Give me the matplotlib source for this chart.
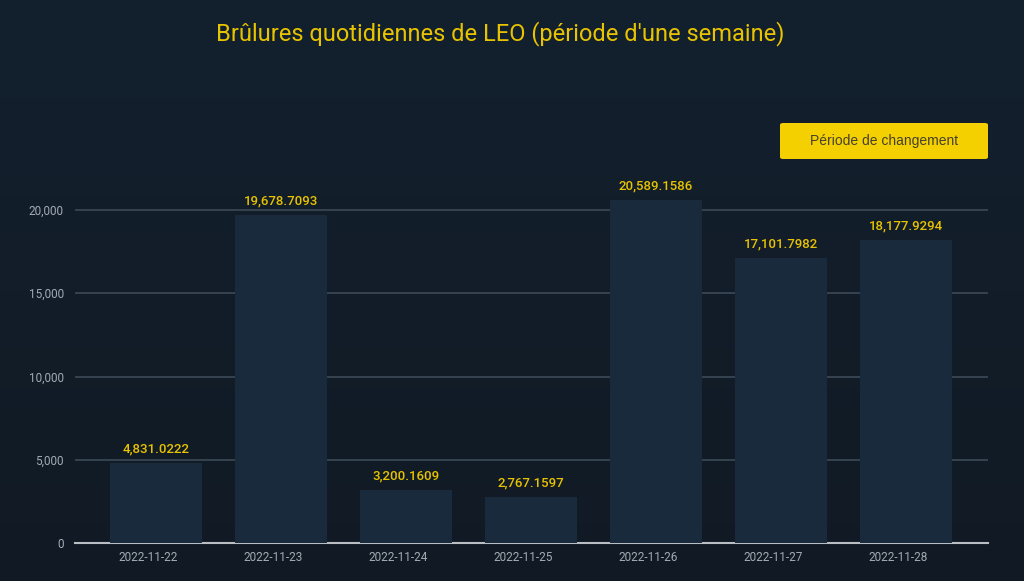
import numpy as np
import matplotlib.pyplot as plt
import matplotlib.transforms as mtransforms
from matplotlib.patches import FancyBboxPatch
from matplotlib.colors import LinearSegmentedColormap

# data
dates = ['2022-11-22', '2022-11-23', '2022-11-24', '2022-11-25',
         '2022-11-26', '2022-11-27', '2022-11-28']
burns = [4831.0222, 19678.7093, 3200.1609, 2767.1597,
         20589.1586, 17101.7982, 18177.9294]
yticks = [0, 5000, 10000, 15000, 20000]

title = "Brûlures quotidiennes de LEO (période d'une semaine)"
legend_label = "Période de changement"

plt.rcParams['font.family'] = ['Roboto', 'DejaVu Sans']

fig = plt.figure(figsize=(10.24, 5.81), dpi=100)

# background gradient
bg = fig.add_axes([0, 0, 1, 1], zorder=-10)
grad = np.linspace(0, 1, 256).reshape(-1, 1)
cmap = LinearSegmentedColormap.from_list('bg', ['#13202e', '#111a24'])
bg.imshow(grad, aspect='auto', cmap=cmap, extent=[0, 1, 0, 1])
bg.axis('off')

ax = fig.add_axes([75 / 1024, 1 - 543 / 581, 913 / 1024, 366.3 / 581])
ax.patch.set_alpha(0)

x = np.arange(len(dates))
ax.bar(x, burns, width=0.735, color='#182a3c', zorder=3)
for xi, v in zip(x, burns):
    ax.text(xi, v + 450, f'{v:,.4f}', ha='center', va='bottom',
            color='#e8c300', fontsize=9.5, fontweight='medium', zorder=4)

ax.set_xlim(-0.648, 6.656)
ax.set_ylim(0, 22000)
ax.set_yticks(yticks)
ax.set_yticklabels([f'{t:,}' for t in yticks])
ax.set_xticks(x)
ax.set_xticklabels(dates)
ax.tick_params(axis='both', colors='#a3abb3', labelsize=8.5, length=0)
ax.tick_params(axis='y', pad=8)
ax.tick_params(axis='x', pad=6)
shift = mtransforms.ScaledTranslation(-8 / 100, 0, fig.dpi_scale_trans)
for lbl in ax.get_xticklabels():
    lbl.set_transform(lbl.get_transform() + shift)
ax.grid(axis='y', color='#3b4a56', linewidth=1.2, zorder=1)
for s in ['top', 'right', 'left']:
    ax.spines[s].set_visible(False)
ax.spines['bottom'].set_color('#b8bec4')
ax.spines['bottom'].set_linewidth(1.5)

fig.text(500 / 1024, 1 - 34 / 581, title, ha='center', va='center',
         color='#e8c300', fontsize=17)

# legend button
btn = FancyBboxPatch((780 / 1024, 1 - 159 / 581), 208 / 1024, 36 / 581,
                     boxstyle='round,pad=0,rounding_size=0.003',
                     transform=fig.transFigure, facecolor='#f5d000',
                     edgecolor='none')
fig.patches.append(btn)
fig.text(884 / 1024, 1 - 141 / 581, legend_label, ha='center', va='center',
         color='#45412e', fontsize=10, family=['Liberation Sans', 'DejaVu Sans'])

fig.savefig('out.png', dpi=100)
